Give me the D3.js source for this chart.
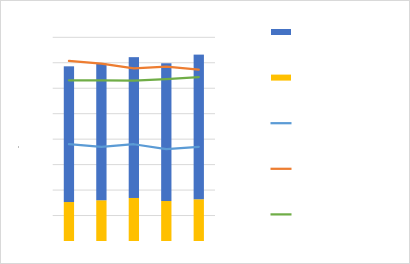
<!DOCTYPE html>
<html>
<head>
<meta charset="utf-8">
<script src="https://cdn.jsdelivr.net/npm/d3@7"></script>
<style>
  body { margin: 0; background: #fff; }
  svg { display: block; font-family: Calibri, "Liberation Sans", sans-serif; }
</style>
</head>
<body>
<div id="chart"></div>
<script>
// categories and series (no labels shown in the picture)
var categories = ["1", "2", "3", "4", "5"];
var barBase = [15.3, 16.0, 16.9, 15.7, 16.4];     // yellow, bottom stack
var barTop = [53.3, 53.7, 55.3, 54.1, 56.8];      // blue, upper stack
var lineBlue = [38.0, 37.0, 38.0, 36.1, 37.0];
var lineOrange = [70.7, 69.7, 67.8, 68.5, 67.3];
var lineGreen = [63.1, 63.1, 63.0, 63.6, 64.4];
var yTicks = [0, 10, 20, 30, 40, 50, 60, 70, 80];

var W = 410, H = 264;
var plot = { left: 52.7, right: 215, top: 37.3, bottom: 241 };

var svg = d3.select("#chart").append("svg")
    .attr("width", W)
    .attr("height", H);

svg.append("rect")
    .attr("x", 0.5).attr("y", 0.5)
    .attr("width", W - 1).attr("height", H - 1)
    .attr("fill", "#fff")
    .attr("stroke", "#d9d9d9");

var x = d3.scaleBand()
    .domain(categories)
    .range([plot.left, plot.right])
    .paddingInner(0.683)
    .paddingOuter(0.3415);

var y = d3.scaleLinear()
    .domain([0, 80])
    .range([plot.bottom, plot.top]);

// gridlines
svg.append("g")
    .selectAll("line")
    .data(yTicks.filter(function(d) { return d > 0; }))
    .enter()
    .append("line")
    .attr("x1", plot.left)
    .attr("x2", plot.right)
    .attr("y1", function(d) { return y(d); })
    .attr("y2", function(d) { return y(d); })
    .attr("stroke", "#d9d9d9")
    .attr("stroke-width", 1);

// stacked bars
var rows = categories.map(function(c, i) {
    return { cat: c, base: barBase[i], top: barTop[i] };
});
var stack = d3.stack().keys(["base", "top"])(rows);
var barColors = { base: "#FFC000", top: "#4472C4" };

svg.append("g")
    .selectAll("g")
    .data(stack)
    .enter()
    .append("g")
    .attr("fill", function(s) { return barColors[s.key]; })
    .selectAll("rect")
    .data(function(s) { return s; })
    .enter()
    .append("rect")
    .attr("x", function(d) { return x(d.data.cat); })
    .attr("width", x.bandwidth())
    .attr("y", function(d) { return y(d[1]); })
    .attr("height", function(d) { return y(d[0]) - y(d[1]); });

// lines
var lines = [
    { values: lineBlue, color: "#5B9BD5" },
    { values: lineOrange, color: "#ED7D31" },
    { values: lineGreen, color: "#70AD47" }
];
var lineGen = d3.line()
    .x(function(d, i) { return x(categories[i]) + x.bandwidth() / 2; })
    .y(function(d) { return y(d); });

svg.append("g")
    .selectAll("path")
    .data(lines)
    .enter()
    .append("path")
    .attr("d", function(d) { return lineGen(d.values); })
    .attr("fill", "none")
    .attr("stroke", function(d) { return d.color; })
    .attr("stroke-width", 2.25)
    .attr("stroke-linejoin", "round")
    .attr("stroke-linecap", "round");

// tiny axis-title remnant on the left
svg.append("rect")
    .attr("x", 18).attr("y", 146.5)
    .attr("width", 1).attr("height", 1)
    .attr("fill", "#7f7f7f");

// legend (no text in picture)
var legendItems = [
    { type: "bar", color: "#4472C4" },
    { type: "bar", color: "#FFC000" },
    { type: "line", color: "#5B9BD5" },
    { type: "line", color: "#ED7D31" },
    { type: "line", color: "#70AD47" }
];
var legend = svg.append("g")
    .selectAll("g")
    .data(legendItems)
    .enter()
    .append("g")
    .attr("transform", function(d, i) { return "translate(271," + (32 + i * 45.6) + ")"; });

legend.filter(function(d) { return d.type === "bar"; })
    .append("rect")
    .attr("x", 0).attr("y", -3)
    .attr("width", 20).attr("height", 6)
    .attr("fill", function(d) { return d.color; });

legend.filter(function(d) { return d.type === "line"; })
    .append("line")
    .attr("x1", -0.5).attr("x2", 20.5)
    .attr("y1", 0).attr("y2", 0)
    .attr("stroke", function(d) { return d.color; })
    .attr("stroke-width", 2.25);
</script>
</body>
</html>
